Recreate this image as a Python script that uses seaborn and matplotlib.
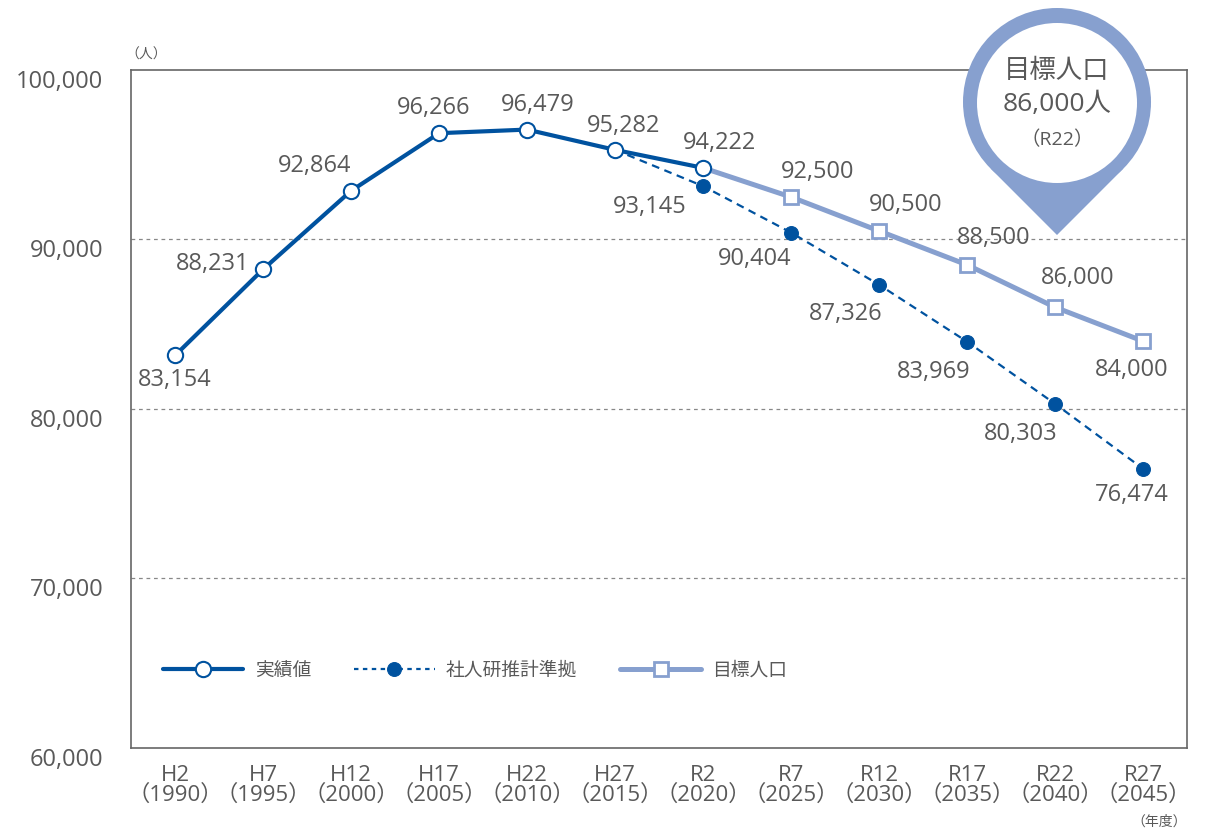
import numpy as np
import pandas as pd
import matplotlib.pyplot as plt
import matplotlib.transforms as mtrans
import seaborn as sns
from matplotlib.patches import Circle, Polygon

# data
categories = ['H2\n（1990）', 'H7\n（1995）', 'H12\n（2000）', 'H17\n（2005）', 'H22\n（2010）',
              'H27\n（2015）', 'R2\n（2020）', 'R7\n（2025）', 'R12\n（2030）', 'R17\n（2035）',
              'R22\n（2040）', 'R27\n（2045）']
actual = [83154, 88231, 92864, 96266, 96479, 95282, 94222]
projection = [95282, 93145, 90404, 87326, 83969, 80303, 76474]   # from H27
target = [94222, 92500, 90500, 88500, 86000, 84000]              # from R2
yticks = [60000, 70000, 80000, 90000, 100000]

df_act = pd.DataFrame({'x': range(0, 7), 'y': actual})
df_proj = pd.DataFrame({'x': range(5, 12), 'y': projection})
df_tgt = pd.DataFrame({'x': range(6, 12), 'y': target})

sns.set_style('white')
plt.rcParams['font.family'] = ['Open Sans', 'Noto Sans CJK JP', 'DejaVu Sans']
jp = ['Noto Sans CJK JP', 'DejaVu Sans']

dark = '#00529f'
light = '#87a0cf'
txt = '#595959'

fig = plt.figure(figsize=(12.27, 8.32), dpi=100)
ax = fig.add_axes([0.1068, 0.101, 0.8606, 0.815])

sns.lineplot(data=df_proj, x='x', y='y', ax=ax, color=dark, linewidth=1.6,
             linestyle=(0, (3.5, 2.5)), marker='o', markersize=10,
             markerfacecolor=dark, markeredgecolor=dark, label='社人研推計準拠', zorder=2)
sns.lineplot(data=df_tgt, x='x', y='y', ax=ax, color=light, linewidth=3.6,
             marker='s', markersize=10.5, markerfacecolor='white', markeredgecolor=light,
             markeredgewidth=2, label='目標人口', zorder=3)
sns.lineplot(data=df_act, x='x', y='y', ax=ax, color=dark, linewidth=3,
             marker='o', markersize=11, markerfacecolor='white', markeredgecolor=dark,
             markeredgewidth=1.5, label='実績値', zorder=4)
# target line starts at R2 (under the actual marker), hide its first marker
ax.lines[1].set_markevery(range(1, len(target)))

ax.set_xlim(-0.5, 11.5)
ax.set_ylim(60000, 100000)
ax.set_xlabel('')
ax.set_ylabel('')

ax.set_xticks(range(len(categories)))
ax.set_xticklabels(categories, fontsize=16, color=txt, linespacing=0.95)
ax.set_xticks(np.arange(0.5, 11, 1), minor=True)
ax.tick_params(axis='x', which='major', length=0, pad=12)
ax.tick_params(axis='x', which='minor', direction='in', length=9, width=1.2, color='#666666')
ax.set_yticks(yticks)
ax.set_yticklabels([f'{v:,}' for v in yticks], fontsize=17, color=txt)
ax.tick_params(axis='y', length=0, pad=20)
shift = mtrans.ScaledTranslation(0, -9 / 100, fig.dpi_scale_trans)
for t in ax.get_yticklabels():
    t.set_transform(t.get_transform() + shift)
for v in yticks[1:-1]:
    ax.axhline(v, color='#888888', linestyle=(0, (3, 3)), linewidth=0.9, zorder=1)
for s in ax.spines.values():
    s.set_color('#666666')
    s.set_linewidth(1.2)

# value labels (offsets in points)
act_off = [(0, -18), (-36, 4), (-26, 18), (-4, 18), (8, 18), (6, 17), (12, 18)]
proj_off = [None, (-38, -15), (-26, -19), (-24, -21), (-24, -22), (-25, -22), (-8, -19)]
tgt_off = [None, (19, 18), (19, 19), (19, 19), (16, 21), (-8, -21)]
lab = dict(ha='center', va='center', fontsize=17, color=txt, textcoords='offset points')
for i, v in enumerate(actual):
    ax.annotate(f'{v:,}', (i, v), xytext=act_off[i], **lab)
for i, v in enumerate(projection):
    if proj_off[i]:
        ax.annotate(f'{v:,}', (i + 5, v), xytext=proj_off[i], **lab)
for i, v in enumerate(target):
    if tgt_off[i]:
        ax.annotate(f'{v:,}', (i + 6, v), xytext=tgt_off[i], **lab)

# legend
order = {'実績値': 0, '社人研推計準拠': 1, '目標人口': 2}
h, l = ax.get_legend_handles_labels()
idx = sorted(range(len(l)), key=lambda k: order[l[k]])
leg = ax.legend([h[k] for k in idx], [l[k] for k in idx], loc='center left',
                bbox_to_anchor=(0.014, 0.115), ncol=3, frameon=False,
                prop={'family': jp, 'size': 13.5},
                handlelength=4.3, handletextpad=0.6, columnspacing=2.3)
for t in leg.get_texts():
    t.set_color(txt)
leg.legend_handles[1].set_linestyle((0, (2, 2)))

fig.text(146 / 1227, 1 - 55 / 832, '（人）', ha='center', va='center', fontsize=10, color=txt, family=jp)
fig.text(1187 / 1227, 1 - 822 / 832, '（年度）', ha='right', va='center', fontsize=10, color=txt, family=jp)

# map pin callout for R22 target
fig.canvas.draw()
tip_x = ax.transData.transform((10, 86000))[0]
ov = fig.add_axes([0, 0, 1, 1], zorder=5)
ov.set_xlim(0, 1227)
ov.set_ylim(832, 0)
ov.axis('off')
ov.patch.set_alpha(0)
cx, cy, R, r = tip_x + 2, 102, 94, 80
tip = (tip_x + 2, 235)
d = tip[1] - cy
th = np.arccos(R / d)
p1 = (cx + R * np.sin(th), cy + R * np.cos(th))
p2 = (cx - R * np.sin(th), cy + R * np.cos(th))
ov.add_patch(Circle((cx, cy), R, color=light, lw=0))
ov.add_patch(Polygon([p1, tip, p2], color=light, lw=0))
ov.add_patch(Circle((cx, cy + 1), r, color='white', lw=0))
ov.text(cx, cy - 32, '目標人口', ha='center', va='center', fontsize=19, color=txt, family=jp)
ov.text(cx, cy + 2, '86,000人', ha='center', va='center', fontsize=19, color=txt)
ov.text(cx, cy + 38, '（R22）', ha='center', va='center', fontsize=14, color=txt)

fig.savefig('out.png', dpi=100)
